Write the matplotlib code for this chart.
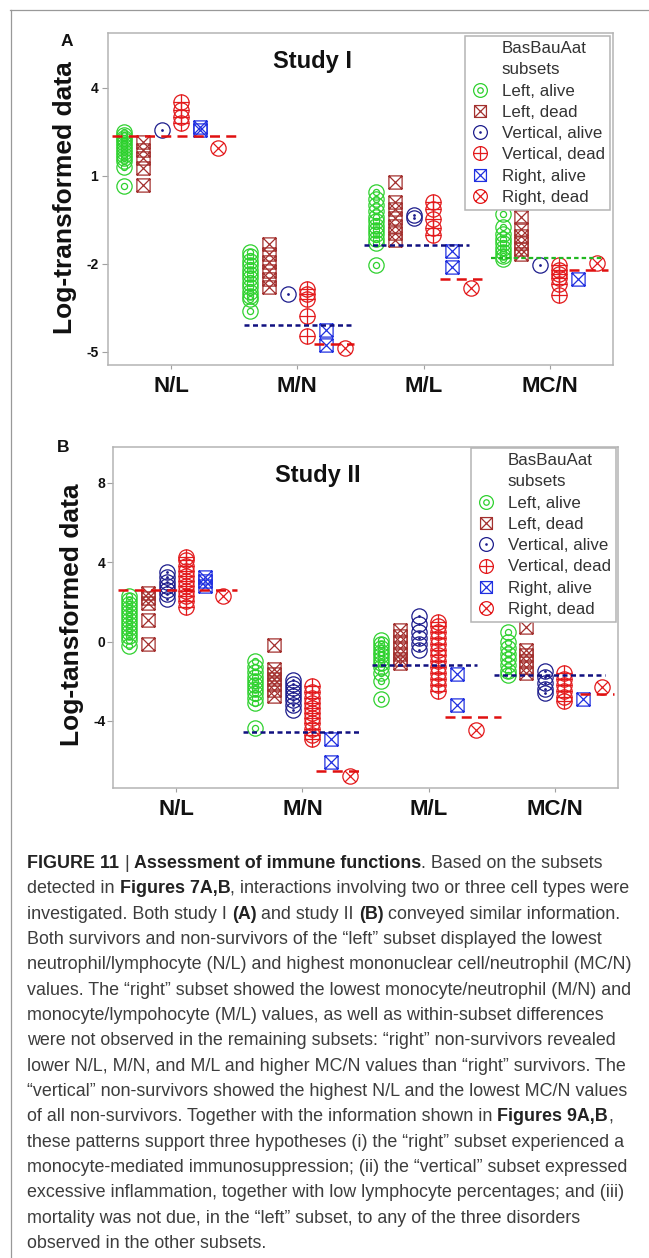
import matplotlib
matplotlib.use("Agg")
import matplotlib.pyplot as plt
from matplotlib.path import Path
from matplotlib.lines import Line2D

plt.rcParams['font.family'] = ['Liberation Sans', 'DejaVu Sans']

categories = ["N/L", "M/N", "M/L", "MC/N"]
subsets = ["Left, alive", "Left, dead", "Vertical, alive",
           "Vertical, dead", "Right, alive", "Right, dead"]

# ---- Study I (panel A): one list per ratio, in category order ----
a_left_alive = [
    [2.5, 2.4, 2.3, 2.2, 2.1, 2.0, 1.9, 1.8, 1.7, 1.6, 1.5, 1.3, 0.65],
    [-1.6, -1.75, -1.9, -2.05, -2.2, -2.35, -2.5, -2.65, -2.8, -2.95, -3.1, -3.2, -3.6],
    [0.45, 0.2, 0.0, -0.2, -0.4, -0.55, -0.7, -0.85, -1.0, -1.15, -1.3, -2.03],
    [-0.3, -0.75, -1.0, -1.15, -1.3, -1.45, -1.6, -1.75, -1.85],
]
a_left_dead = [
    [2.16, 1.88, 1.61, 1.27, 0.69],
    [-1.32, -1.66, -1.93, -2.24, -2.51, -2.78],
    [0.8, 0.1, -0.15, -0.45, -0.7, -0.95, -1.2],
    [-0.4, -0.8, -1.07, -1.3, -1.5, -1.67],
]
a_vert_alive = [[2.57], [-3.02], [-0.35, -0.45], [-2.03]]
a_vert_dead = [
    [3.5, 3.25, 3.0, 2.8],
    [-2.85, -3.02, -3.19, -3.77, -4.45],
    [0.11, -0.15, -0.47, -0.77, -1.03],
    [-2.05, -2.2, -2.35, -2.5, -2.7, -3.05],
]
a_right_alive = [[2.67, 2.57], [-4.26, -4.77], [-1.56, -2.1], [-2.51]]
a_right_dead = [[1.95], [-4.87], [-2.83], [-1.97]]
# reference lines: (colour key, x start, x end, value)
a_ref_lines = [("red", 0.53, 1.51, 2.35), ("navy", 1.58, 2.43, -4.09),
               ("red", 2.13, 2.45, -4.74), ("navy", 2.53, 3.36, -1.35),
               ("red", 3.13, 3.46, -2.51), ("green", 3.53, 4.41, -1.80),
               ("red", 4.15, 4.46, -2.20)]
a_yticks = [4, 1, -2, -5]

# ---- Study II (panel B) ----
b_left_alive = [
    [2.3, 2.1, 1.9, 1.7, 1.5, 1.3, 1.1, 0.9, 0.7, 0.5, 0.3, 0.1, -0.2],
    [-1.0, -1.3, -1.55, -1.8, -2.0, -2.2, -2.4, -2.6, -2.85, -3.1, -4.35],
    [0.1, -0.1, -0.3, -0.5, -0.7, -0.9, -1.1, -1.3, -1.6, -2.0, -2.9],
    [0.5, 0.0, -0.3, -0.6, -0.9, -1.2, -1.5, -1.7],
]
b_left_dead = [
    [2.45, 2.2, 1.95, 1.1, -0.1],
    [-0.15, -1.4, -1.65, -1.9, -2.15, -2.45, -2.75],
    [0.6, 0.3, 0.0, -0.3, -0.6, -0.9, -1.1],
    [0.75, -0.4, -0.7, -1.0, -1.3, -1.6],
]
b_vert_alive = [
    [3.5, 3.25, 3.0, 2.8, 2.6, 2.4, 2.15],
    [-1.95, -2.15, -2.35, -2.55, -2.75, -2.95, -3.2, -3.45],
    [1.3, 0.9, 0.5, 0.2, -0.1, -0.4],
    [-1.5, -1.8, -2.1, -2.4, -2.6],
]
b_vert_dead = [
    [4.25, 4.1, 3.8, 3.55, 3.3, 3.05, 2.8, 2.55, 2.3, 2.05, 1.75],
    [-2.25, -2.55, -2.85, -3.1, -3.35, -3.6, -3.85, -4.1, -4.4, -4.7, -4.9],
    [1.0, 0.8, 0.5, 0.2, -0.1, -0.4, -0.7, -1.0, -1.3, -1.6, -1.9, -2.2, -2.5],
    [-1.6, -1.9, -2.2, -2.5, -2.8, -3.0],
]
b_right_alive = [[3.25, 3.05, 2.8], [-4.9, -6.05], [-1.65, -3.2], [-2.9]]
b_right_dead = [[2.3], [-6.75], [-4.45], [-2.3]]
b_ref_lines = [("red", 0.54, 1.48, 2.6), ("navy", 1.53, 2.47, -4.56),
               ("red", 2.11, 2.48, -6.54), ("navy", 2.55, 3.38, -1.2),
               ("red", 3.13, 3.57, -3.82), ("navy", 3.52, 4.40, -1.68),
               ("red", 4.20, 4.47, -2.63)]
b_yticks = [8, 4, 0, -4]

caption_lines = [
    [("FIGURE 11", True), (" | ", False), ("Assessment of immune functions", True),
     (". Based on the subsets", False)],
    [("detected in ", False), ("Figures 7A,B", True),
     (", interactions involving two or three cell types were", False)],
    [("investigated. Both study I ", False), ("(A)", True), (" and study II ", False),
     ("(B)", True), (" conveyed similar information.", False)],
    [("Both survivors and non-survivors of the \u201cleft\u201d subset displayed the lowest", False)],
    [("neutrophil/lymphocyte (N/L) and highest mononuclear cell/neutrophil (MC/N)", False)],
    [("values. The \u201cright\u201d subset showed the lowest monocyte/neutrophil (M/N) and", False)],
    [("monocyte/lympohocyte (M/L) values, as well as within-subset differences", False)],
    [("were not observed in the remaining subsets: \u201cright\u201d non-survivors revealed", False)],
    [("lower N/L, M/N, and M/L and higher MC/N values than \u201cright\u201d survivors. The", False)],
    [("\u201cvertical\u201d non-survivors showed the highest N/L and the lowest MC/N values", False)],
    [("of all non-survivors. Together with the information shown in ", False),
     ("Figures 9A,B", True), (",", False)],
    [("these patterns support three hypotheses (i) the \u201cright\u201d subset experienced a", False)],
    [("monocyte-mediated immunosuppression; (ii) the \u201cvertical\u201d subset expressed", False)],
    [("excessive inflammation, together with low lymphocyte percentages; and (iii)", False)],
    [("mortality was not due, in the \u201cleft\u201d subset, to any of the three disorders", False)],
    [("observed in the other subsets.", False)],
]

# ---- marker shapes ----
def seg(x0, y0, x1, y1):
    return Path([[x0, y0], [x1, y1]], [Path.MOVETO, Path.LINETO])

circ = Path.unit_circle()
inner = Path(circ.vertices * 0.4, circ.codes)
dot = Path(circ.vertices * 0.1, circ.codes)
square = Path([[-1, -1], [1, -1], [1, 1], [-1, 1], [-1, -1]],
              [Path.MOVETO, Path.LINETO, Path.LINETO, Path.LINETO, Path.CLOSEPOLY])
d = 0.7071
m_ring = Path.make_compound_path(circ, inner)
m_boxx = Path.make_compound_path(square, seg(-1, -1, 1, 1), seg(-1, 1, 1, -1))
m_dot = Path.make_compound_path(circ, dot)
m_plus = Path.make_compound_path(circ, seg(-1, 0, 1, 0), seg(0, -1, 0, 1))
m_cx = Path.make_compound_path(circ, seg(-d, -d, d, d), seg(-d, d, d, -d))

styles = [
    dict(marker=m_ring, mec="#2ed12e", ms=11),
    dict(marker=m_boxx, mec="#a3302e", ms=9.5),
    dict(marker=m_dot, mec="#1c1c8c", ms=11),
    dict(marker=m_plus, mec="#e31a1c", ms=11),
    dict(marker=m_boxx, mec="#2030e0", ms=9.5),
    dict(marker=m_cx, mec="#e31a1c", ms=11),
]
offsets = [-0.375, -0.225, -0.075, 0.075, 0.225, 0.375]
ref_styles = {
    "red": dict(color="#e01010", lw=1.8, ls=(0, (4, 2.5))),
    "navy": dict(color="#101080", lw=1.8, ls=(0, (2, 1.4))),
    "green": dict(color="#22b822", lw=1.6, ls=(0, (2, 1.4))),
}

W, H = 649, 1258
fig = plt.figure(figsize=(W / 100, H / 100), dpi=100)
fig.patch.set_facecolor("white")


def draw_panel(rect, series, ref_lines, yticks, ylim, title, ylabel, ylab_xy,
               letter, letter_xy, legend_anchor, tick_pad):
    ax = fig.add_axes(rect)
    for k, vals in enumerate(series):
        for ci, v in enumerate(vals):
            ax.plot([ci + 1 + offsets[k]] * len(v), v, ls="none", mfc="none",
                    mew=0.9, zorder=2, **styles[k])
    for key, x0, x1, y in ref_lines:
        ax.plot([x0, x1], [y, y], zorder=3, **ref_styles[key])
    ax.set_xlim(0.5, 4.5)
    ax.set_ylim(*ylim)
    ax.set_xticks(range(1, 5))
    ax.set_xticklabels(categories, fontsize=16, fontweight="bold", color="#111111")
    ax.set_yticks(yticks)
    ax.set_yticklabels([str(t) for t in yticks], fontsize=10, fontweight="bold",
                       color="#111111")
    ax.tick_params(axis="x", length=3, color="#a0a0a0", pad=5)
    ax.tick_params(axis="y", length=4, color="#a0a0a0", pad=tick_pad)
    for sp in ax.spines.values():
        sp.set_color("#b4b4b4")
        sp.set_linewidth(1.1)
    ax.text(0.405, 0.915, title, transform=ax.transAxes, ha="center", va="center",
            fontsize=17, fontweight="bold", color="#111111")
    fig.text(ylab_xy[0] / W, 1 - ylab_xy[1] / H, ylabel, rotation=90, ha="center",
             va="center", fontsize=19, fontweight="bold", color="#111111")
    fig.text(letter_xy[0] / W, 1 - letter_xy[1] / H, letter, ha="center",
             va="center", fontsize=12.5, fontweight="bold", color="#111111")
    handles = [Line2D([], [], ls="none", marker=None),
               Line2D([], [], ls="none", marker=None)]
    labels = ["BasBauAat", "subsets"] + subsets
    for st in styles:
        handles.append(Line2D([], [], ls="none", mfc="none", mew=0.9,
                              marker=st["marker"], mec=st["mec"],
                              ms=st["ms"] * 0.9))
    leg = ax.legend(handles, labels, loc="upper right",
                    bbox_to_anchor=legend_anchor, fontsize=12.2, frameon=True,
                    fancybox=False, edgecolor="#b4b4b4", framealpha=1,
                    borderpad=0.3, labelspacing=0.37, handlelength=1.1,
                    handletextpad=0.75, borderaxespad=0)
    leg.get_frame().set_linewidth(1.1)
    for t in leg.get_texts():
        t.set_color("#333333")
    return ax


draw_panel([108 / W, 1 - 365 / H, 505 / W, 332 / H],
           [a_left_alive, a_left_dead, a_vert_alive, a_vert_dead,
            a_right_alive, a_right_dead],
           a_ref_lines, a_yticks, (-5.45, 5.86), "Study I",
           "Log-transformed data", (65, 198), "A", (67, 42),
           (0.994, 0.991), 3)

draw_panel([113 / W, 1 - 788 / H, 505 / W, 341 / H],
           [b_left_alive, b_left_dead, b_vert_alive, b_vert_dead,
            b_right_alive, b_right_dead],
           b_ref_lines, b_yticks, (-7.38, 9.81), "Study II",
           "Log-tansformed data", (72, 615), "B", (63, 447),
           (0.996, 0.997), 1.5)

# outer frame (top and left edges)
fig.add_artist(Line2D([10 / W, 1], [1 - 10 / H, 1 - 10 / H], color="#999999",
                      lw=0.9, transform=fig.transFigure))
fig.add_artist(Line2D([11 / W, 11 / W], [0, 1 - 10 / H], color="#999999",
                      lw=0.9, transform=fig.transFigure))

# caption with mixed bold/regular runs
renderer = fig.canvas.get_renderer()


def ink_width(s, bold, size):
    t = fig.text(0, 0, s, fontsize=size, fontweight="bold" if bold else "normal")
    w = t.get_window_extent(renderer).width
    t.remove()
    return w


ref_w = ink_width(caption_lines[4][0][0], False, 10)
cap_size = 10 * 606 / ref_w
space_w = {b: ink_width("a a", b, cap_size) - ink_width("aa", b, cap_size)
           for b in (False, True)}

x_start, y0, dy = 27, 868, 25.33
for i, line in enumerate(caption_lines):
    x = x_start
    yb = y0 + i * dy
    for s, bold in line:
        core = s.strip()
        x += (len(s) - len(s.lstrip())) * space_w[bold]
        if core:
            fig.text(x / W, 1 - yb / H, core, fontsize=cap_size,
                     fontweight="bold" if bold else "normal",
                     color="#222222" if bold else "#3d3d3d",
                     ha="left", va="baseline")
            x += ink_width(core, bold, cap_size)
        x += (len(s) - len(s.rstrip())) * space_w[bold] if core else 0

fig.savefig("out.png", dpi=100)
